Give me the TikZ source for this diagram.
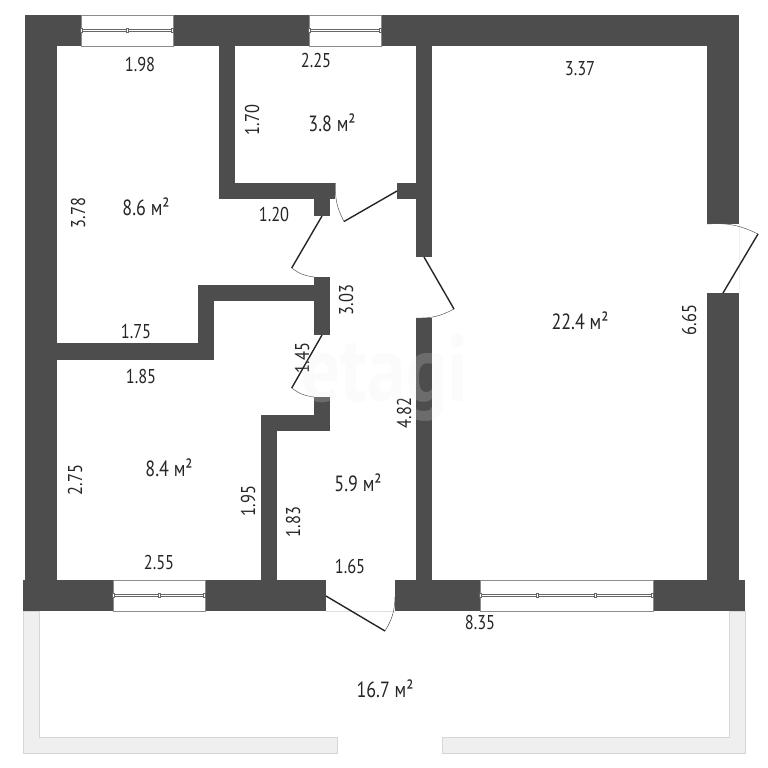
\documentclass[tikz,border=0pt]{standalone}
\usepackage{fontspec}
\setmainfont[FakeStretch=0.82]{PT Sans}
\definecolor{wallgray}{HTML}{4D4D4D}
\definecolor{balconygray}{HTML}{EFEFEF}
\tikzset{
  wall/.style={fill=wallgray},
  balcony/.style={fill=balconygray,draw=black!16,line width=.5pt},
  window/.style={fill=white,draw=black!45,line width=.5pt},
  sash/.style={fill=white,draw=black!60,line width=.5pt},
  door/.style={draw=black!85,line width=1.4pt},
  swing/.style={draw=black!65,line width=.5pt},
  dim/.style={font=\fontsize{20}{20}\selectfont,text=black!85,inner sep=0pt},
  area/.style={font=\fontsize{22}{22}\selectfont,text=black!85,inner sep=0pt}
}
\begin{document}
\begin{tikzpicture}[x=1pt,y=-1pt]
    \useasboundingbox (0,0) rectangle (768,768);
    \fill[white] (0,0) rectangle (768,768);
    % balcony
    \draw[balcony] (337,753)--(23,753)--(23,611)--(39,611)--(39,737)--(337,737)--cycle;
    \draw[balcony] (442,753)--(745,753)--(745,611)--(729,611)--(729,737)--(442,737)--cycle;
    \draw[draw=black!12,line width=.5pt] (326,611)--(395,611);
    \draw[draw=black!6,line width=.5pt] (739,224)--(739,293);
    % outer walls
    \fill[wall] (25,15) rectangle (739,46);
    \fill[wall] (25,15) rectangle (57,585);
    \fill[wall] (707,15) rectangle (739,224);
    \fill[wall] (707,293) rectangle (739,585);
    \fill[wall] (23,580) rectangle (326,611);
    \fill[wall] (395,580) rectangle (745,611);
    % inner walls
    \fill[wall] (219,46) rectangle (235,199);
    \fill[wall] (219,183) rectangle (335,199);
    \fill[wall] (314,199) rectangle (330,216);
    \fill[wall] (397,183) rectangle (420,199);
    \fill[wall] (416,46) rectangle (432,257);
    \fill[wall] (416,318) rectangle (432,580);
    \fill[wall] (198,285) rectangle (314,301);
    \fill[wall] (314,277) rectangle (330,335);
    \fill[wall] (198,285) rectangle (214,360);
    \fill[wall] (57,343) rectangle (214,360);
    \fill[wall] (314,397) rectangle (330,431);
    \fill[wall] (261,415) rectangle (330,431);
    \fill[wall] (261,415) rectangle (277,580);
    % windows
    \foreach \xa/\xb/\ya in {81/173/15,309/381/15,113/205/580,480/653/580}{
        \draw[window] (\xa,\ya) rectangle (\xb,\ya+31);
        \draw[sash] (\xa,\ya+14.5) rectangle (\xb,\ya+16.5);
    }
    \foreach \xa/\ya in {81.5/15,127/15,172.5/15,309.5/15,380.5/15,113.5/580,159/580,204.5/580,480.5/580,537/580,595/580,652.5/580}{
        \draw[sash] (\xa-1,\ya+13.5) rectangle (\xa+1,\ya+17.5);
    }
    % doors
    \coordinate (hingeA) at (397,191);
    \coordinate (tipA) at (344,221.5);
    \coordinate (jambA) at (335.5,183);
    \draw[door] (hingeA)--(tipA);
    \draw[swing] (tipA) to[bend left=15] (jambA);
    \coordinate (hingeB) at (322,216);
    \coordinate (tipB) at (291.7,268);
    \coordinate (jambB) at (314,277);
    \draw[door] (hingeB)--(tipB);
    \draw[swing] (tipB) to[bend right=15] (jambB);
    \coordinate (hingeC) at (322,335);
    \coordinate (tipC) at (291.7,388);
    \coordinate (jambC) at (314,397);
    \draw[door] (hingeC)--(tipC);
    \draw[swing] (tipC) to[bend right=15] (jambC);
    \coordinate (hingeD) at (424,257);
    \coordinate (tipD) at (454,309);
    \coordinate (jambD) at (416,318);
    \draw[door] (hingeD)--(tipD);
    \draw[swing] (tipD) to[bend left=15] (jambD);
    \coordinate (hingeE) at (723,293);
    \coordinate (tipE) at (758,234);
    \coordinate (jambE) at (707,224);
    \draw[door] (hingeE)--(tipE);
    \draw[swing] (tipE) to[bend right=15] (jambE);
    \coordinate (hingeF) at (326,596);
    \coordinate (tipF) at (385,631);
    \coordinate (jambF) at (395,597);
    \draw[door] (hingeF)--(tipF);
    \draw[swing] (tipF) to[bend right=15] (jambF);
    % dimensions
    \node[dim] (topleft) at (140,64) {1.98};
    \node[dim] (topmid) at (316,60.5) {2.25};
    \node[dim,rotate=90] (bathside) at (252,120) {1.70};
    \node[dim,rotate=90] (roomaside) at (78,213) {3.78};
    \node[dim] (niche) at (274,214) {1.20};
    \node[dim,rotate=90] (hallup) at (346,300) {3.03};
    \node[dim] (stepa) at (136,331) {1.75};
    \node[dim] (stepb) at (141,376) {1.85};
    \node[dim,rotate=90] (doorc) at (302,358) {1.45};
    \node[dim] (livingtop) at (580,69) {3.37};
    \node[dim,rotate=90] (livingside) at (689,320) {6.65};
    \node[dim,rotate=90] (hallside) at (404,413) {4.82};
    \node[dim,rotate=90] (roombside) at (75,480) {2.75};
    \node[dim,rotate=90] (roombright) at (248,501) {1.95};
    \node[dim,rotate=90] (halllow) at (293,522) {1.83};
    \node[dim] (roombbottom) at (159,562) {2.55};
    \node[dim] (hallbottom) at (350,566) {1.65};
    \node[dim] (balconytop) at (480,622) {8.35};
    % areas
    \node[area] (bath) at (332,123) {3.8 м²};
    \node[area] (rooma) at (146,207) {8.6 м²};
    \node[area] (living) at (580,321) {22.4 м²};
    \node[area] (roomb) at (169,468) {8.4 м²};
    \node[area] (hall) at (358,483) {5.9 м²};
    \node[area] (balc) at (385,689) {16.7 м²};
    % watermark
    \node[font=\fontsize{94}{94}\selectfont\bfseries,text=black!8,opacity=.2,inner sep=0pt] (mark) at (385,378) {etagi};
\end{tikzpicture}
\end{document}
